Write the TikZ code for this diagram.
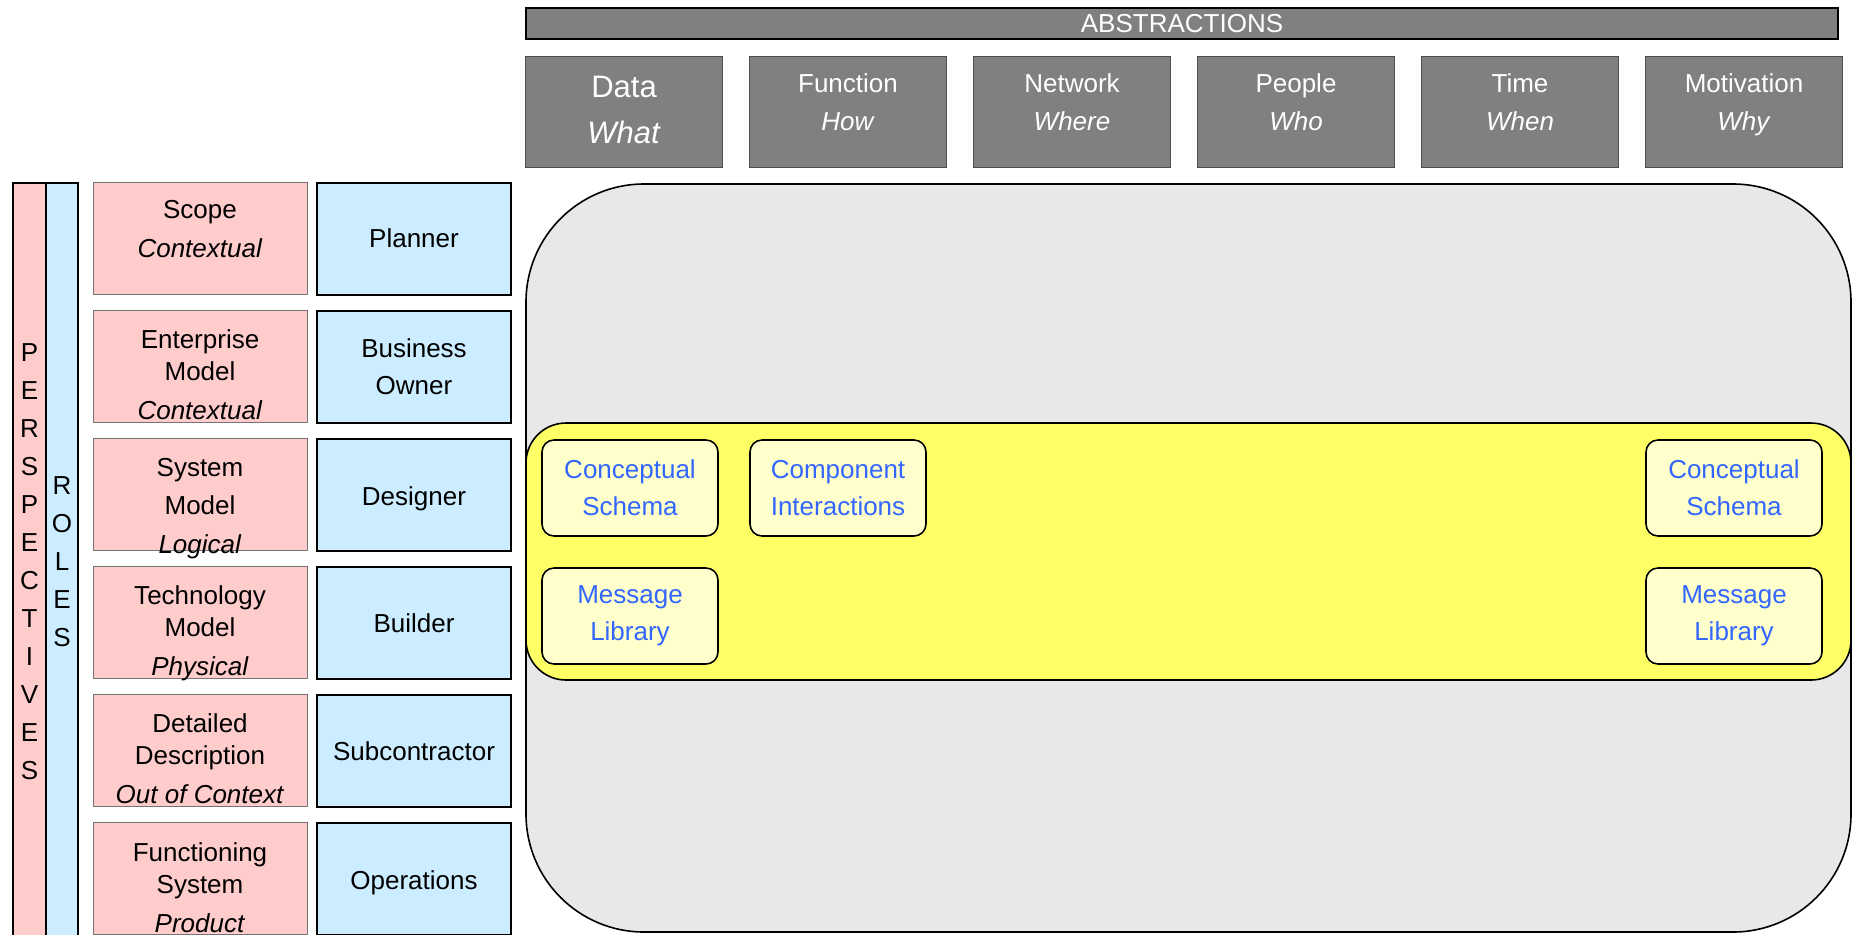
\documentclass[tikz,border=0pt]{standalone}
\usepackage{fontspec}
\setmainfont{Liberation Sans}
\definecolor{perspink}{RGB}{255,204,204}
\definecolor{roleblue}{RGB}{204,236,255}
\definecolor{abstgrey}{RGB}{128,128,128}
\definecolor{areagrey}{RGB}{232,232,232}
\definecolor{areayellow}{RGB}{255,255,102}
\definecolor{cellyellow}{RGB}{255,255,204}
\definecolor{linkblue}{RGB}{51,102,255}
% text block lowered (or raised) inside its box
\newcommand{\movedtext}[2]{\raisebox{#1}[\height][\depth]{\begin{tabular}{@{}c@{}}#2\end{tabular}}}
\tikzset{
  perspbox/.style={draw=black!55, line width=0.5pt, fill=perspink, minimum width=107pt, minimum height=56pt, inner sep=0pt, font=\fontsize{13}{16}\selectfont},
  rolebox/.style={draw=black, line width=1pt, fill=roleblue, minimum width=97pt, minimum height=56pt, inner sep=0pt, font=\fontsize{13}{18.5}\selectfont},
  abstbox/.style={draw=black!70, line width=0.5pt, fill=abstgrey, text=white, minimum width=98.5pt, minimum height=55.5pt, inner sep=0pt, font=\fontsize{13}{19}\selectfont},
  cellbox/.style={draw=black, line width=0.8pt, fill=cellyellow, text=linkblue, rounded corners=6pt, minimum width=88pt, minimum height=48pt, inner sep=0pt, align=center, font=\fontsize{13}{18.5}\selectfont},
  sidebar/.style={draw=black, line width=1pt, inner sep=0pt, minimum height=378.5pt, align=center, font=\fontsize{13}{19}\selectfont},
}
\begin{document}
\begin{tikzpicture}[x=0.5pt,y=0.5pt,yscale=-1,xscale=1]
\path[use as bounding box] (0,0) rectangle (1853,934);
\clip (0,0) rectangle (1853,934);

% Side bars
\node[sidebar, fill=perspink, minimum width=16.5pt] (perspectives) at (29.5,561.5) {P\\E\\R\\S\\P\\E\\C\\T\\I\\V\\E\\S};
\node[sidebar, fill=roleblue, minimum width=16pt] (roles) at (62,561.5) {R\\O\\L\\E\\S};

% Perspectives
\node[perspbox] (scope) at (200,238.5) {\movedtext{3.5pt}{Scope\\[3.5pt]\textit{Contextual}}};
\node[perspbox] (enterprise) at (200,366.5) {\movedtext{-5.5pt}{Enterprise\\Model\\[3.5pt]\textit{Contextual}}};
\node[perspbox] (system) at (200,494.5) {\movedtext{-7pt}{System\\[3pt]Model\\[3.5pt]\textit{Logical}}};
\node[perspbox] (technology) at (200,622.5) {\movedtext{-5.5pt}{Technology\\Model\\[3.5pt]\textit{Physical}}};
\node[perspbox] (detailed) at (200,750.5) {\movedtext{-5.5pt}{Detailed\\Description\\[3.5pt]\textit{Out of Context}}};
\node[perspbox] (functioning) at (200,878.5) {\movedtext{-6pt}{Functioning\\System\\[3.5pt]\textit{Product}}};

% Roles
\node[rolebox] (planner) at (414,238.5) {\movedtext{-1pt}{Planner}};
\node[rolebox] (owner) at (414,366.5) {\movedtext{-1pt}{Business\\Owner}};
\node[rolebox] (designer) at (414,494.5) {\movedtext{-2pt}{Designer}};
\node[rolebox] (builder) at (414,622.5) {\movedtext{-1.5pt}{Builder}};
\node[rolebox] (subcontractor) at (414,750.5) {\movedtext{-1.5pt}{Subcontractor}};
\node[rolebox] (operations) at (414,878.5) {\movedtext{-2pt}{Operations}};

% Abstractions
\node[draw=black, line width=1.2pt, fill=abstgrey, text=white, minimum width=656pt, minimum height=15.5pt, inner sep=0pt, font=\fontsize{13}{13}\selectfont] (abstractions) at (1182,23.5) {ABSTRACTIONS};
\node[abstbox, font=\fontsize{15.5}{23}\selectfont] (data) at (624,111.5) {\movedtext{0pt}{Data\\\textit{What}}};
\node[abstbox] (function) at (848,111.5) {\movedtext{4pt}{Function\\\textit{How}}};
\node[abstbox] (network) at (1072,111.5) {\movedtext{4pt}{Network\\\textit{Where}}};
\node[abstbox] (people) at (1296,111.5) {\movedtext{4pt}{People\\\textit{Who}}};
\node[abstbox] (time) at (1520,111.5) {\movedtext{4pt}{Time\\\textit{When}}};
\node[abstbox] (motivation) at (1744,111.5) {\movedtext{4pt}{Motivation\\\textit{Why}}};

% Areas
\draw[fill=areagrey, line width=0.8pt, rounded corners=59pt] (526,184) rectangle (1851,932);
\draw[fill=areayellow, line width=0.8pt, rounded corners=20pt] (526,423) rectangle (1851,680);

% Cells
\node[cellbox] (schemaA) at (630,488) {Conceptual\\Schema};
\node[cellbox] (interactions) at (838,488) {Component\\Interactions};
\node[cellbox] (libraryA) at (630,616) {Message\\Library};
\node[cellbox] (schemaB) at (1734,488) {Conceptual\\Schema};
\node[cellbox] (libraryB) at (1734,616) {Message\\Library};

\end{tikzpicture}
\end{document}
